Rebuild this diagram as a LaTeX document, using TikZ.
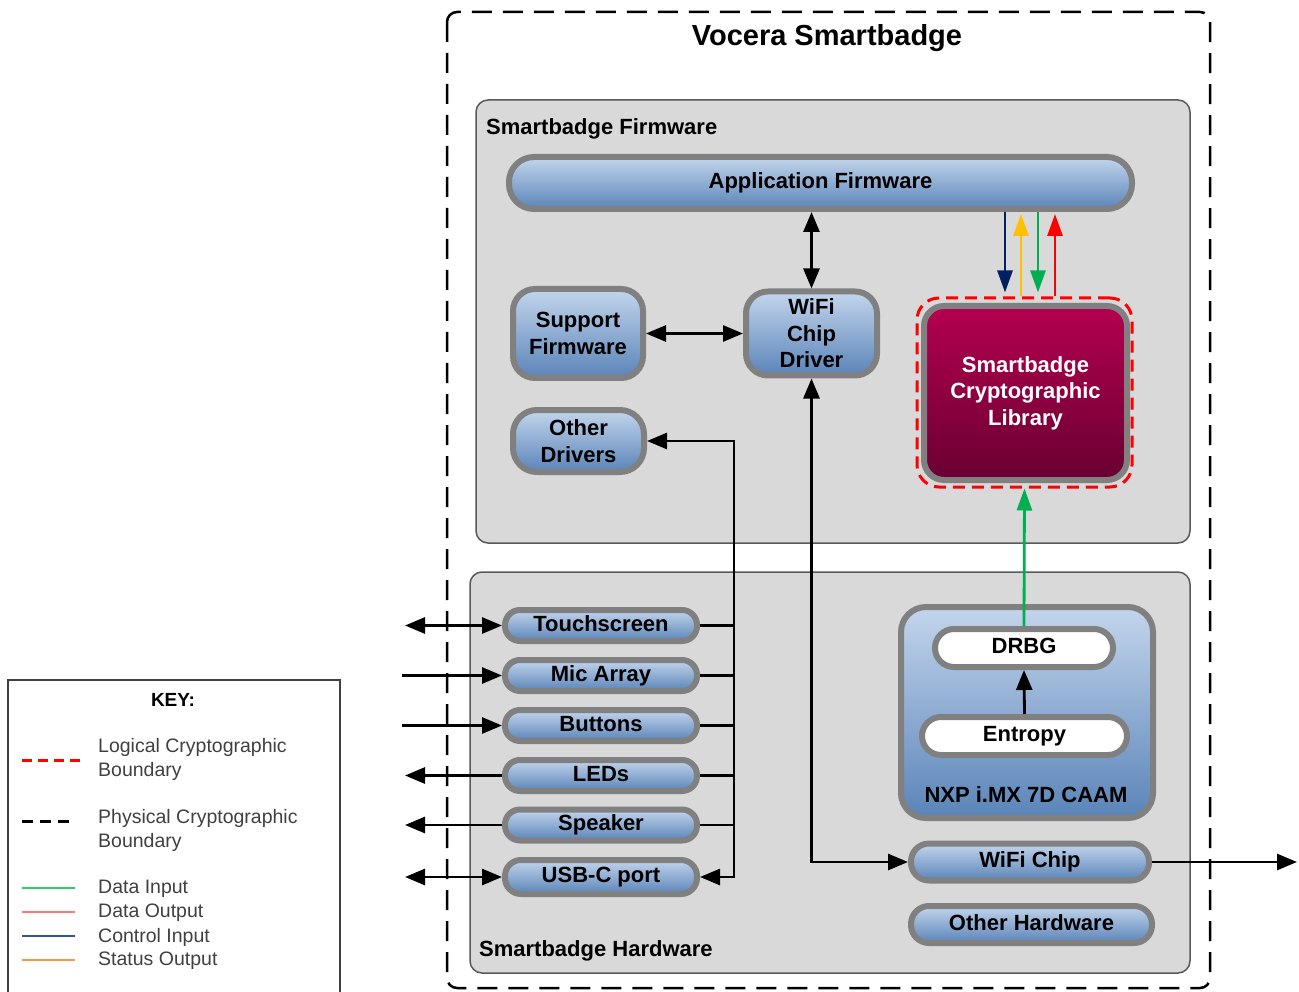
\documentclass[tikz,border=0pt]{standalone}
\usepackage{fontspec}
\setmainfont{Liberation Sans}
\usetikzlibrary{arrows.meta,calc}
\definecolor{bordergray}{HTML}{808080}
\definecolor{contfill}{HTML}{D9D9D9}
\definecolor{contdraw}{HTML}{595959}
\definecolor{bluetop}{HTML}{C3D5EC}
\definecolor{bluebot}{HTML}{5A84B8}
\definecolor{cryptop}{HTML}{B4004F}
\definecolor{cryptbot}{HTML}{690031}
\definecolor{ctrlnavy}{HTML}{002060}
\definecolor{statgold}{HTML}{FFC000}
\definecolor{datagreen}{HTML}{00B050}
\definecolor{keygreen}{HTML}{33CC66}
\definecolor{keyred}{HTML}{FF7777}
\definecolor{keyblue}{HTML}{3355A0}
\definecolor{keyorange}{HTML}{F79646}
\definecolor{keytext}{HTML}{404040}
\begin{document}
\begin{tikzpicture}[x=1pt,y=-1pt,
  labfont/.style={font=\fontsize{22}{26.5}\selectfont\bfseries},
  bluebox/.style={draw=bordergray, line width=6pt, top color=bluetop, bottom color=bluebot,
    inner sep=0pt, align=center, text=black, labfont},
  pill/.style={bluebox, text height=16pt, text depth=5pt},
  whitepill/.style={draw=bordergray, line width=6pt, fill=white, inner sep=0pt,
    text=black, labfont, text height=16pt, text depth=5pt},
  container/.style={draw=contdraw, line width=1.5pt, fill=contfill, rounded corners=12pt},
  arr/.style={line width=2.8pt, -{Triangle[length=20pt,width=16pt]}},
  arrb/.style={line width=2.8pt, {Triangle[length=20pt,width=16pt]}-{Triangle[length=20pt,width=16pt]}},
  carr/.style={line width=2.8pt, -{Triangle[length=22pt,width=15pt]}},
  keyfont/.style={font=\fontsize{19.5}{24}\selectfont, text=keytext, align=left, inner sep=0pt}
]
\useasboundingbox (0,0) rectangle (1299,992);

% physical boundary
\draw[black, line width=2.5pt, dash pattern=on 20pt off 11pt, rounded corners=10pt] (447,12) rectangle (1210,988);
\node[font=\fontsize{29}{34}\selectfont\bfseries] (title) at (827,38) {Vocera Smartbadge};

% containers
\draw[container] (476,100) rectangle (1190,543);
\node[labfont, anchor=west, inner sep=0pt] (fwlbl) at (486,129) {Smartbadge Firmware};
\draw[container] (470,572) rectangle (1190,973);
\node[labfont, anchor=west, inner sep=0pt] (hwlbl) at (479,951) {Smartbadge Hardware};

% firmware nodes
\node[bluebox, rounded corners=25pt, minimum width=623pt, minimum height=52pt, text height=16pt, text depth=5pt] (appfw) at (820.5,183) {Application Firmware};
\node[bluebox, rounded corners=22pt, minimum width=130pt, minimum height=89pt] (sup) at (578,333.5) {Support\\Firmware};
\node[bluebox, rounded corners=22pt, minimum width=131pt, minimum height=84pt] (wdrv) at (811.5,333.5) {WiFi\\Chip\\Driver};
\node[bluebox, rounded corners=24pt, minimum width=131pt, minimum height=62pt] (odrv) at (578.5,441) {Other\\Drivers};
\node[draw=bordergray, line width=6pt, top color=cryptop, bottom color=cryptbot, rounded corners=20pt,
  minimum width=203pt, minimum height=174pt, inner sep=0pt, align=center, text=white, labfont] (crypt) at (1025.5,393) {Smartbadge\\Cryptographic\\Library};
\node[draw=red, line width=3pt, dash pattern=on 12pt off 7pt, rounded corners=22pt,
  minimum width=215pt, minimum height=189pt, inner sep=0pt] (lcb) at (1024.5,392.5) {};

% hardware nodes
\node[pill, rounded corners=15pt, minimum width=192pt, minimum height=31pt] (touch) at (601,625.5) {Touchscreen};
\node[pill, rounded corners=15pt, minimum width=192pt, minimum height=31pt] (mic) at (601,675.5) {Mic Array};
\node[pill, rounded corners=15pt, minimum width=192pt, minimum height=31pt] (btn) at (601,725.5) {Buttons};
\node[pill, rounded corners=15pt, minimum width=192pt, minimum height=31pt] (led) at (601,775.5) {LEDs};
\node[pill, rounded corners=15pt, minimum width=192pt, minimum height=31pt] (spk) at (601,825) {Speaker};
\node[pill, rounded corners=16pt, minimum width=192pt, minimum height=34pt] (usb) at (601,877) {USB-C port};

\node[bluebox, rounded corners=25pt, minimum width=252pt, minimum height=211pt] (caam) at (1027,712.5) {};
\node[labfont, inner sep=0pt] (caamlbl) at (1026,795) {NXP i.MX 7D CAAM};
\node[whitepill, rounded corners=19pt, minimum width=178pt, minimum height=38pt] (drbg) at (1024,648) {DRBG};
\node[whitepill, rounded corners=19pt, minimum width=205pt, minimum height=38pt] (ent) at (1024.5,736) {Entropy};
\node[pill, rounded corners=18pt, minimum width=238pt, minimum height=37pt] (wchip) at (1030,862) {WiFi Chip};
\node[pill, rounded corners=18pt, minimum width=241pt, minimum height=37pt] (ohw) at (1031.5,924.5) {Other Hardware};

% coordinates
\coordinate (busx) at (734,0);
\coordinate (extL) at (405,0);
\coordinate (extS) at (402,0);
\coordinate (extR) at (1297,862);
\coordinate (cn) at (1005,0);
\coordinate (cg) at (1021,0);
\coordinate (cd) at (1038,0);
\coordinate (cr) at (1055,0);

% firmware connectors
\draw[arrb] (appfw.south -| wdrv.north) -- (wdrv.north);
\draw[arrb] (sup.east |- wdrv.west) -- (wdrv.west);
\draw[carr, ctrlnavy] (appfw.south -| cn) -- ($(lcb.north -| cn)+(0,-4)$);
\draw[carr, statgold] (lcb.north -| cg) -- ($(appfw.south -| cg)+(0,2)$);
\draw[carr, datagreen] (appfw.south -| cd) -- ($(lcb.north -| cd)+(0,-4)$);
\draw[carr, red] (lcb.north -| cr) -- ($(appfw.south -| cr)+(0,2)$);

% bus
\draw[arrb] (odrv.east) -- (odrv.east -| busx) -- (usb.east -| busx) -- (usb.east);
\draw[line width=2.8pt] (touch.east) -- (touch.east -| busx);
\draw[line width=2.8pt] (mic.east) -- (mic.east -| busx);
\draw[line width=2.8pt] (btn.east) -- (btn.east -| busx);
\draw[line width=2.8pt] (led.east) -- (led.east -| busx);
\draw[line width=2.8pt] (spk.east) -- (spk.east -| busx);

% external connectors
\draw[arrb] (touch.west -| extL) -- (touch.west);
\draw[arr] (mic.west -| extS) -- (mic.west);
\draw[arr] (btn.west -| extS) -- (btn.west);
\draw[arr] (led.west) -- (led.west -| extL);
\draw[arr] (spk.west) -- (spk.west -| extL);
\draw[arrb] (usb.west -| extL) -- (usb.west);

% wifi path
\draw[arrb] (wdrv.south) -- (wdrv.south |- wchip.west) -- (wchip.west);
\draw[arr] (wchip.east) -- (extR);

% CAAM internals
\draw[arr] (ent.north) -- (drbg.south);
\draw[carr, datagreen] (drbg.north) -- (lcb.south);

% key
\draw[draw=keytext, line width=1.5pt] (8,1000) -- (8,680) -- (340,680) -- (340,1000);
\node[font=\fontsize{19}{24}\selectfont\bfseries, text=black] (keyt) at (173,700) {KEY:};
\coordinate (k1a) at (22,760); \coordinate (k1b) at (85,760);
\draw[red, line width=3pt, dash pattern=on 10pt off 6pt] (k1a) -- (k1b);
\node[keyfont, anchor=north west] (k1) at (98,738) {Logical Cryptographic\\Boundary};
\coordinate (k2a) at (22,821); \coordinate (k2b) at (74,821);
\draw[black, line width=3pt, dash pattern=on 11pt off 7pt] (k2a) -- (k2b);
\node[keyfont, anchor=north west] (k2) at (98,809) {Physical Cryptographic\\Boundary};
\draw[keygreen, line width=2pt] (22,888) -- (75,888);
\node[keyfont, anchor=west] (k3) at (98,889) {Data Input};
\draw[keyred, line width=2.5pt] (22,912) -- (75,912);
\node[keyfont, anchor=west] (k4) at (98,913) {Data Output};
\draw[keyblue, line width=2pt] (22,936) -- (75,936);
\node[keyfont, anchor=west] (k5) at (98,937) {Control Input};
\draw[keyorange, line width=2pt] (22,960) -- (75,960);
\node[keyfont, anchor=west] (k6) at (98,961) {Status Output};
\end{tikzpicture}
\end{document}
